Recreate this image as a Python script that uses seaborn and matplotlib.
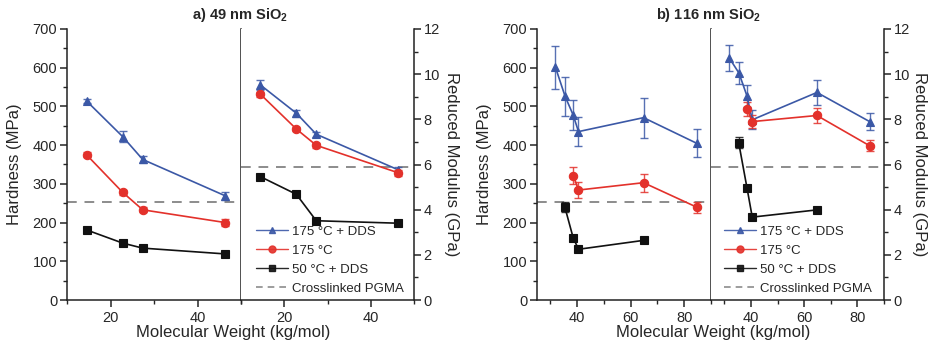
import numpy as np
import pandas as pd
import matplotlib
matplotlib.use("Agg")
import matplotlib.pyplot as plt
from matplotlib.ticker import MultipleLocator
from matplotlib.lines import Line2D
import seaborn as sns

# ---------------- data ----------------
series_labels = ["175 °C + DDS", "175 °C", "50 °C + DDS", "Crosslinked PGMA"]

# panel a) 49 nm SiO2
mw_a = [14.5, 22.8, 27.4, 46.4]
hard_a_175dds = [514, 422, 363, 269]
hard_a_175dds_err = [6, 15, 8, 10]
hard_a_175 = [375, 278, 233, 200]
hard_a_175_err = [6, 6, 6, 8]
hard_a_50dds = [181, 147, 134, 119]
hard_a_50dds_err = [5, 5, 4, 5]
mod_a_175dds = [9.52, 8.27, 7.34, 5.76]
mod_a_175dds_err = [0.2, 0.15, 0.12, 0.12]
mod_a_175 = [9.11, 7.57, 6.85, 5.63]
mod_a_175_err = [0.12, 0.1, 0.1, 0.12]
mod_a_50dds = [5.46, 4.68, 3.51, 3.40]
mod_a_50dds_err = [0.06, 0.06, 0.05, 0.05]

# panel b) 116 nm SiO2
mw_b_175dds = [31.9, 35.5, 38.5, 40.5, 64.8, 84.6]
hard_b_175dds = [601, 526, 478, 435, 471, 405]
hard_b_175dds_err = [56, 51, 39, 37, 52, 36]
mw_b_175 = [38.6, 40.5, 64.8, 84.6]
hard_b_175 = [321, 284, 303, 240]
hard_b_175_err = [22, 21, 23, 14]
mw_b_50dds = [35.4, 38.5, 40.5, 64.8]
hard_b_50dds = [240, 161, 131, 154]
hard_b_50dds_err = [12, 8, 5, 5]
mod_b_175dds = [10.71, 10.05, 9.04, 7.98, 9.19, 7.90]
mod_b_175dds_err = [0.58, 0.48, 0.48, 0.43, 0.57, 0.37]
mod_b_175 = [8.45, 7.90, 8.17, 6.83]
mod_b_175_err = [0.3, 0.3, 0.35, 0.25]
mod_b_50dds = [6.97, 4.98, 3.67, 3.99]
mod_b_50dds_err = [0.25, 0.12, 0.08, 0.08]

pgma_hardness = 252
pgma_modulus = 5.87

# ---------------- style ----------------
sns.set_theme(style="ticks")
plt.rcParams["font.family"] = ["Liberation Sans", "DejaVu Sans"]
plt.rcParams["mathtext.fontset"] = "custom"
plt.rcParams["mathtext.rm"] = "Liberation Sans"
plt.rcParams["mathtext.bf"] = "Liberation Sans:bold"
plt.rcParams["axes.linewidth"] = 1.1
plt.rcParams["axes.edgecolor"] = "#222222"

BLUE = "#3B58A6"
RED = "#E3312B"
BLACK = "#111111"
GRAY = "#8C8C8C"
TICK_FS = 10.5
LABEL_FS = 12

W, H = 933, 347
fig = plt.figure(figsize=(W / 100, H / 100), dpi=100)


def px_axes(x0, x1, y_top, y_bot):
    return fig.add_axes([x0 / W, (H - y_bot) / H, (x1 - x0) / W, (y_bot - y_top) / H])


def plot_series(ax, x, y, err, color, marker):
    ax.errorbar(x, y, yerr=err, fmt="none", ecolor=color, elinewidth=1.0,
                capsize=2.6, capthick=1.0, alpha=0.85, zorder=2)
    sns.lineplot(x=x, y=y, ax=ax, color=color, marker=marker, markersize=6,
                 markeredgecolor=color, markeredgewidth=0.8, linewidth=1.2,
                 sort=False, errorbar=None, legend=False, zorder=3)


def style_x(ax, xlim, major):
    ax.set_xlim(*xlim)
    ax.xaxis.set_major_locator(MultipleLocator(major))
    ax.xaxis.set_minor_locator(MultipleLocator(major / 2))
    ax.tick_params(axis="x", which="major", direction="out", length=5, width=1.1,
                   labelsize=TICK_FS, pad=3)
    ax.tick_params(axis="x", which="minor", direction="out", length=3, width=1.0)
    ax.set_xlabel("")


def make_panel(xl, xm, xr, xlim, major, hard_sets, mod_sets, title, title_x,
               xlabel_x, ylabel_x, rlabel_x, legend_x):
    axL = px_axes(xl, xm, 29, 300)
    axR = px_axes(xm, xr, 29, 300)

    for (x, y, e, c, m) in hard_sets:
        plot_series(axL, x, y, e, c, m)
    axL.axhline(pgma_hardness, color=GRAY, linestyle=(0, (5, 4)), linewidth=1.4, zorder=1)
    for (x, y, e, c, m) in mod_sets:
        plot_series(axR, x, y, e, c, m)
    axR.axhline(pgma_modulus, color=GRAY, linestyle=(0, (5, 4)), linewidth=1.4, zorder=1)

    # left axis (hardness)
    axL.set_ylim(0, 700)
    axL.yaxis.set_major_locator(MultipleLocator(100))
    axL.yaxis.set_minor_locator(MultipleLocator(50))
    axL.tick_params(axis="y", which="major", direction="out", length=5, width=1.1,
                    labelsize=TICK_FS, pad=2)
    axL.tick_params(axis="y", which="minor", direction="out", length=3, width=1.0)
    axL.spines["top"].set_visible(False)
    axL.set_ylabel("Hardness (MPa)", fontsize=LABEL_FS)
    axL.yaxis.set_label_coords((ylabel_x - xl) / (xm - xl), 0.5)
    style_x(axL, xlim, major)

    # right axis (modulus)
    axR.set_ylim(0, 12)
    axR.yaxis.set_major_locator(MultipleLocator(2))
    axR.yaxis.set_minor_locator(MultipleLocator(1))
    axR.yaxis.tick_right()
    axR.yaxis.set_label_position("right")
    axR.tick_params(axis="y", which="major", direction="out", length=5, width=1.1,
                    labelsize=TICK_FS, pad=2)
    axR.tick_params(axis="y", which="minor", direction="out", length=3, width=1.0)
    axR.spines["top"].set_visible(False)
    axR.spines["left"].set_visible(False)
    axR.set_ylabel("Reduced Modulus (GPa)", fontsize=LABEL_FS, rotation=270, va="center")
    axR.yaxis.set_label_coords((rlabel_x - xm) / (xr - xm), 0.5)
    style_x(axR, xlim, major)

    handles = [
        Line2D([], [], color=BLUE, marker="^", markersize=5, linewidth=1.0, alpha=0.9),
        Line2D([], [], color=RED, marker="o", markersize=5, linewidth=1.0, alpha=0.9),
        Line2D([], [], color=BLACK, marker="s", markersize=5, linewidth=1.0, alpha=0.9),
        Line2D([], [], color=GRAY, linestyle=(0, (4, 3)), linewidth=1.2),
    ]
    axR.legend(handles, series_labels, loc="lower left",
               bbox_to_anchor=((legend_x - xm) / (xr - xm), 0.02),
               frameon=False, fontsize=9.5, handlelength=2.4, handletextpad=0.35,
               labelspacing=0.5, borderpad=0, borderaxespad=0)

    fig.text(title_x / W, 1 - 15 / H, title, ha="center", va="center",
             fontsize=10.5, fontweight="bold")
    fig.text(xlabel_x / W, 1 - 333 / H, "Molecular Weight (kg/mol)", ha="center",
             va="center", fontsize=LABEL_FS)


make_panel(67, 241, 414, (10, 50), 20,
           [(mw_a, hard_a_175dds, hard_a_175dds_err, BLUE, "^"),
            (mw_a, hard_a_175, hard_a_175_err, RED, "o"),
            (mw_a, hard_a_50dds, hard_a_50dds_err, BLACK, "s")],
           [(mw_a, mod_a_175dds, mod_a_175dds_err, BLUE, "^"),
            (mw_a, mod_a_175, mod_a_175_err, RED, "o"),
            (mw_a, mod_a_50dds, mod_a_50dds_err, BLACK, "s")],
           r"a) 49 nm SiO$_\mathbf{2}$", 240, 233, 22, 452, 256)

make_panel(537, 711, 884, (25, 90), 20,
           [(mw_b_175dds, hard_b_175dds, hard_b_175dds_err, BLUE, "^"),
            (mw_b_175, hard_b_175, hard_b_175_err, RED, "o"),
            (mw_b_50dds, hard_b_50dds, hard_b_50dds_err, BLACK, "s")],
           [(mw_b_175dds, mod_b_175dds, mod_b_175dds_err, BLUE, "^"),
            (mw_b_175, mod_b_175, mod_b_175_err, RED, "o"),
            (mw_b_50dds, mod_b_50dds, mod_b_50dds_err, BLACK, "s")],
           r"b) 116 nm SiO$_\mathbf{2}$", 708, 713, 492, 920, 724)

fig.savefig("out.png", dpi=100)
